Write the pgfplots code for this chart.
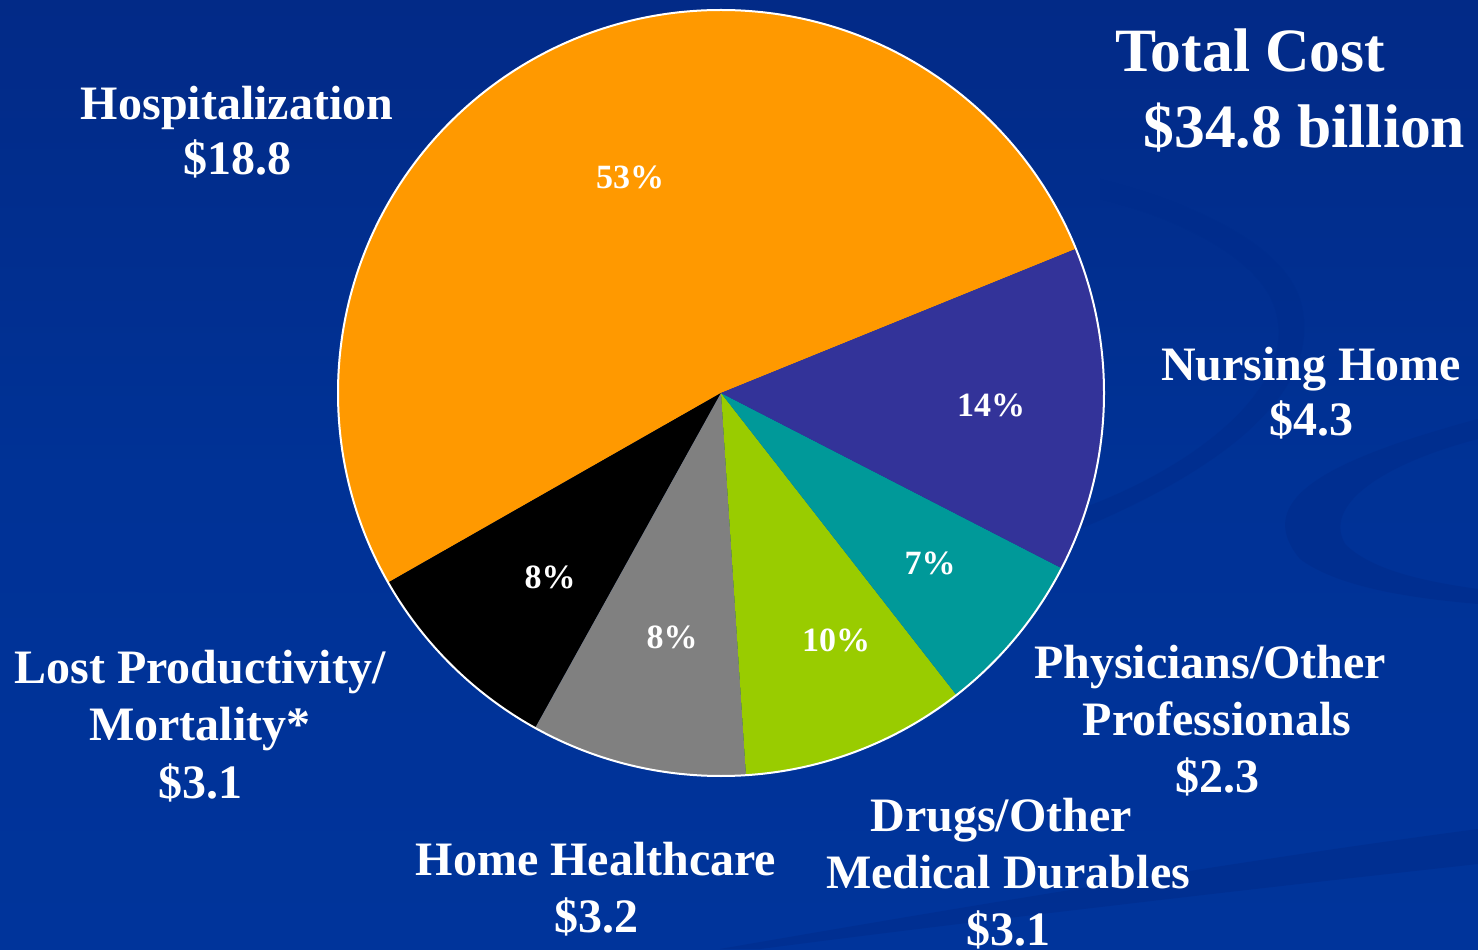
\documentclass[border=0pt]{standalone}
\usepackage{pgfplots}
\pgfplotsset{compat=1.18}
\usepackage{pgfplotstable}
\usepackage{fontspec}
\setmainfont{Liberation Serif}

\definecolor{bgtop}{RGB}{2,42,135}
\definecolor{bgmid}{RGB}{0,50,150}
\definecolor{bgbot}{RGB}{0,52,155}
\definecolor{swirl}{RGB}{0,44,140}
\definecolor{c0}{RGB}{255,153,0}
\definecolor{c1}{RGB}{0,0,0}
\definecolor{c2}{RGB}{128,128,128}
\definecolor{c3}{RGB}{153,204,0}
\definecolor{c4}{RGB}{0,153,153}
\definecolor{c5}{RGB}{51,51,153}

% slice shares (percent of the circle), counterclockwise from 22.1 degrees
\pgfplotstableread{
idx share
0 52.1
1 8.7
2 9.1
3 9.5
4 6.9
5 13.7
}\piedata

\pgfplotstablegetrowsof{\piedata}
\pgfmathtruncatemacro{\nrows}{\pgfplotsretval-1}
\def\cum{22.1}
\foreach \i in {0,...,\nrows}{%
  \pgfplotstablegetelem{\i}{share}\of\piedata
  \pgfmathsetmacro{\sa}{\cum}%
  \pgfmathsetmacro{\ea}{\cum+3.6*\pgfplotsretval}%
  \expandafter\xdef\csname sa\i\endcsname{\sa}%
  \expandafter\xdef\csname ea\i\endcsname{\ea}%
  \xdef\cum{\ea}%
}

\begin{document}
\begin{tikzpicture}
\begin{axis}[
  width=739pt, height=474.5pt, scale only axis,
  xmin=0, xmax=1478, ymin=0, ymax=949,
  hide axis, clip=false, disabledatascaling,
]
% background
\shade[top color=bgtop, bottom color=bgbot, middle color=bgmid] (0,0) rectangle (1478,949);
% faint swirls
\fill[swirl, opacity=0.6, overlay] (1478,530) .. controls (1330,490) and (1250,450) .. (1300,390)
   .. controls (1340,360) and (1420,350) .. (1478,345) -- (1478,360)
   .. controls (1420,368) and (1370,380) .. (1345,405)
   .. controls (1320,450) and (1400,490) .. (1478,510) -- cycle;
\fill[swirl, opacity=0.6, overlay] (720,0) .. controls (950,40) and (1250,90) .. (1478,120) -- (1478,85)
   .. controls (1250,60) and (950,25) .. (760,0) -- cycle;
\fill[swirl, opacity=0.5, overlay] (1080,420) .. controls (1200,470) and (1330,550) .. (1300,650)
   .. controls (1280,710) and (1180,750) .. (1100,770) -- (1100,750)
   .. controls (1180,730) and (1260,690) .. (1275,640)
   .. controls (1300,560) and (1190,480) .. (1080,440) -- cycle;

% pie slices
\pgfplotsinvokeforeach{0,...,5}{%
  \fill[c#1, overlay] (721,556) -- ++(\csname sa#1\endcsname:383)
    arc[start angle=\csname sa#1\endcsname, end angle=\csname ea#1\endcsname, radius=383] -- cycle;
}
\draw[white, line width=1pt, overlay] (721,556) circle[radius=383];

% percentage labels
\begin{scope}[every node/.style={anchor=base, inner sep=0pt, text=white,
    font=\fontsize{17}{20}\selectfont\bfseries}]
\node at (630,760) {53\%};
\node at (991,532) {14\%};
\node at (930,374) {7\%};
\node at (836,298) {10\%};
\node at (672,301) {8\%};
\node at (550,361) {8\%};
\end{scope}

% category labels
\begin{scope}[every node/.style={anchor=base, inner sep=0pt, text=white,
    font=\fontsize{24}{28}\selectfont\bfseries}]
\node at (237,829) {Hospitalization};
\node at (237,774) {\$18.8};
\node at (1311,568) {Nursing Home};
\node at (1311,513) {\$4.3};
\node at (1210,271) {Physicians/Other};
\node at (1217,214) {Professionals};
\node at (1217,157) {\$2.3};
\node at (1001,118) {Drugs/Other};
\node at (1008,61) {Medical Durables};
\node[overlay] at (1008,4) {\$3.1};
\node at (596,74) {Home Healthcare};
\node at (596,17) {\$3.2};
\node at (200,266) {Lost Productivity/};
\node at (200,209) {Mortality*};
\node at (200,151) {\$3.1};
\end{scope}

% title
\begin{scope}[every node/.style={anchor=base west, inner sep=0pt, text=white,
    font=\fontsize{30.8}{36}\selectfont\bfseries}]
\node at (1115,877) {Total Cost};
\node at (1143,801) {\$34.8 billion};
\end{scope}
\end{axis}
\end{tikzpicture}
\end{document}
